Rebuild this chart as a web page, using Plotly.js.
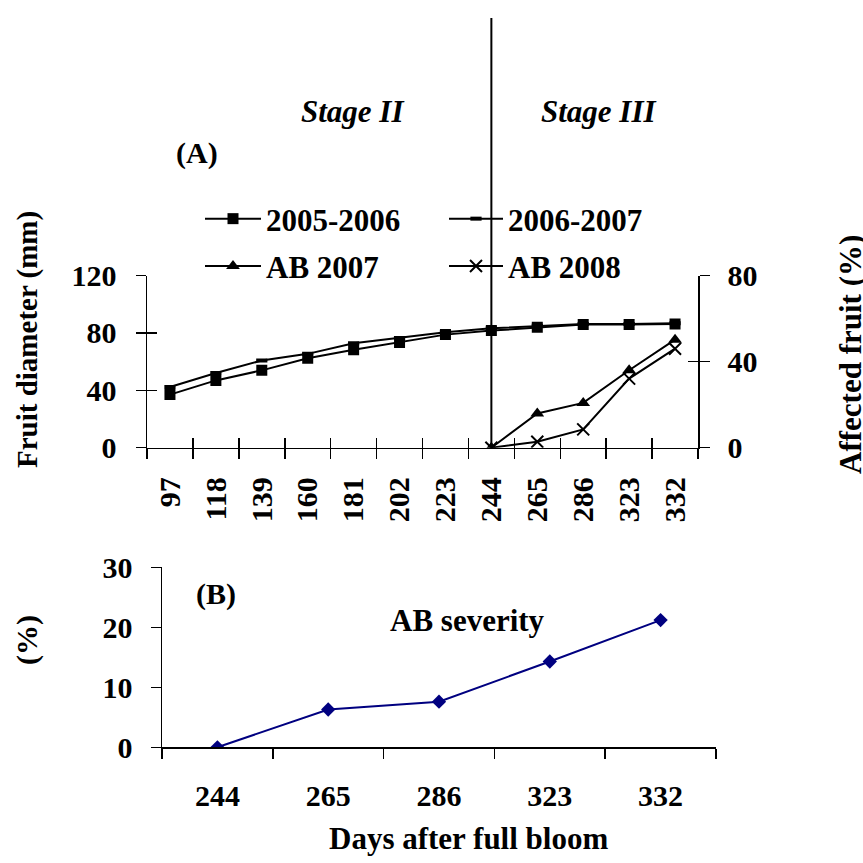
<!DOCTYPE html>
<html><head><meta charset="utf-8">
<script src="https://cdn.plot.ly/plotly-3.0.1.min.js"></script>
<style>html,body{margin:0;padding:0;background:#fff}#chart{width:863px;height:863px}</style>
</head><body><div id="chart"></div><script>
// ---- data ----
const days = ['97','118','139','160','181','202','223','244','265','286','323','332'];
const diam0506 = [37.0,46.9,53.9,62.4,68.2,73.3,78.8,81.6,83.9,85.8,85.8,86.2];
const diam0607 = [42.3,52.0,60.8,65.4,72.8,76.5,80.5,83.2,84.9,86.2,86.2,86.7];
const abDays = ['244','265','286','323','332'];
const ab2007 = [0,15.9,20.8,36.0,50.2];
const ab2008 = [0,2.8,8.5,32.1,46.0];
const sevDays = ['244','265','286','323','332'];
const severity = [0,6.3,7.6,14.3,21.2];
const leftTicks = [0,40,80,120];
const rightTicks = [0,40,80];
const sevTicks = [0,10,20,30];

// ---- layout helpers ----
const W = 863, H = 863;
const px = v => v / W;
const py = v => 1 - v / H;
const FAM = 'Liberation Serif, Times New Roman, serif';
const bf = (s) => ({family: FAM, size: s, color: '#000', weight: 'bold'});

const boundaries = n => Array.from({length: n + 1}, (_, i) => i - 0.5);

const traces = [
  {x: days, y: diam0506, name: '2005-2006', type: 'scatter', mode: 'lines+markers',
   line: {color: '#000', width: 2}, marker: {symbol: 'square', size: 11, color: '#000'},
   xaxis: 'x', yaxis: 'y', legend: 'legend', legendgroup: 'a'},
  {x: abDays, y: ab2007, name: 'AB 2007', type: 'scatter', mode: 'lines+markers',
   line: {color: '#000', width: 2}, marker: {symbol: 'triangle-up', size: 12, color: '#000'},
   xaxis: 'x', yaxis: 'y2', legend: 'legend', legendgroup: 'b'},
  {x: days, y: diam0607, name: '2006-2007', type: 'scatter', mode: 'lines+markers',
   line: {color: '#000', width: 2}, marker: {symbol: 'line-ew', size: 8, color: '#000', line: {color: '#000', width: 4}},
   xaxis: 'x', yaxis: 'y', legend: 'legend2', legendgroup: 'c'},
  {x: abDays, y: ab2008, name: 'AB 2008', type: 'scatter', mode: 'lines+markers',
   line: {color: '#000', width: 2}, marker: {symbol: 'x-thin', size: 12, color: '#000', line: {color: '#000', width: 2}},
   xaxis: 'x', yaxis: 'y2', legend: 'legend2', legendgroup: 'd'},
  {x: sevDays, y: severity, name: 'AB severity', type: 'scatter', mode: 'lines+markers',
   line: {color: '#000080', width: 2}, marker: {symbol: 'diamond', size: 11, color: '#000080'},
   xaxis: 'x2', yaxis: 'y3', showlegend: false},
  // empty helper traces so the inner-tick overlay axes are drawn (cross ticks)
  {x: [], y: [], type: 'scatter', mode: 'lines', xaxis: 'x3', yaxis: 'y', showlegend: false, hoverinfo: 'skip'},
  {x: [], y: [], type: 'scatter', mode: 'lines', xaxis: 'x', yaxis: 'y4', showlegend: false, hoverinfo: 'skip'},
  {x: [], y: [], type: 'scatter', mode: 'lines', xaxis: 'x', yaxis: 'y5', showlegend: false, hoverinfo: 'skip'}
];

const topDomX = [px(147), px(698)];
const topDomY = [py(447.7), py(275.5)];
const botDomX = [px(162), px(716)];
const botDomY = [py(747.3), py(567.3)];

const axBase = {showgrid: false, zeroline: false, showline: true, linecolor: '#000', linewidth: 1.5,
  tickcolor: '#000', tickwidth: 1.5, fixedrange: true};
const innerBase = {showticklabels: false, showline: false, showgrid: false, zeroline: false,
  ticks: 'inside', ticklen: 10, tickcolor: '#000', tickwidth: 1.5, fixedrange: true, tickmode: 'array'};

const layout = {
  width: W, height: H, margin: {l: 0, r: 0, t: 0, b: 0},
  paper_bgcolor: '#fff', plot_bgcolor: 'rgba(0,0,0,0)',
  font: {family: FAM, color: '#000'},
  xaxis: Object.assign({}, axBase, {domain: topDomX, anchor: 'y', type: 'category',
    categoryorder: 'array', categoryarray: days, range: [-0.5, days.length - 0.5],
    tickson: 'boundaries', ticks: 'outside', ticklen: 10, tickangle: -90,
    tickfont: bf(30), ticklabelstandoff: 16}),
  xaxis3: Object.assign({}, innerBase, {overlaying: 'x', anchor: 'y', type: 'linear',
    range: [-0.5, days.length - 0.5], tickvals: boundaries(days.length)}),
  yaxis: Object.assign({}, axBase, {domain: topDomY, anchor: 'x', range: [0, 120],
    tickmode: 'array', tickvals: leftTicks, ticks: 'outside', ticklen: 10,
    tickfont: bf(30), ticklabelstandoff: 13}),
  yaxis4: Object.assign({}, innerBase, {overlaying: 'y', anchor: 'x', side: 'left',
    range: [0, 120], tickvals: leftTicks}),
  yaxis2: Object.assign({}, axBase, {overlaying: 'y', anchor: 'x', side: 'right', range: [0, 80],
    tickmode: 'array', tickvals: rightTicks, ticks: 'outside', ticklen: 10,
    tickfont: bf(30), ticklabelstandoff: 12}),
  yaxis5: Object.assign({}, innerBase, {overlaying: 'y', anchor: 'x', side: 'right',
    range: [0, 80], tickvals: rightTicks}),
  xaxis2: Object.assign({}, axBase, {domain: botDomX, anchor: 'y3', type: 'category',
    categoryorder: 'array', categoryarray: sevDays, range: [-0.5, sevDays.length - 0.5],
    tickson: 'boundaries', ticks: 'outside', ticklen: 10, tickfont: bf(30), ticklabelstandoff: 21}),
  yaxis3: Object.assign({}, axBase, {domain: botDomY, anchor: 'x2', range: [0, 30],
    tickmode: 'array', tickvals: sevTicks, ticks: 'outside', ticklen: 10,
    tickfont: bf(30), ticklabelstandoff: 12}),
  legend: {x: px(200), xanchor: 'left', y: py(192), yanchor: 'top', orientation: 'v',
    font: bf(31), bgcolor: 'rgba(0,0,0,0)', tracegroupgap: 4, itemwidth: 56, traceorder: 'grouped'},
  legend2: {x: px(444), xanchor: 'left', y: py(192), yanchor: 'top', orientation: 'v',
    font: bf(31), bgcolor: 'rgba(0,0,0,0)', tracegroupgap: 4, itemwidth: 54, traceorder: 'grouped'},
  shapes: [
    {type: 'line', xref: 'x', yref: 'paper', x0: days.indexOf('244'), x1: days.indexOf('244'),
     y0: py(447.7), y1: py(18), line: {color: '#000', width: 2}}
  ],
  annotations: [
    {text: 'Stage II', x: px(352), y: py(112), xref: 'paper', yref: 'paper', showarrow: false,
     xanchor: 'center', yanchor: 'middle', font: Object.assign(bf(31), {style: 'italic'})},
    {text: 'Stage III', x: px(598), y: py(112), xref: 'paper', yref: 'paper', showarrow: false,
     xanchor: 'center', yanchor: 'middle', font: Object.assign(bf(31), {style: 'italic'})},
    {text: '(A)', x: px(197), y: py(153), xref: 'paper', yref: 'paper', showarrow: false,
     xanchor: 'center', yanchor: 'middle', font: bf(30)},
    {text: 'Fruit diameter (mm)', x: px(27), y: py(340), xref: 'paper', yref: 'paper', showarrow: false,
     textangle: -90, xanchor: 'center', yanchor: 'middle', font: bf(29)},
    {text: 'Affected fruit (%)', x: px(850), y: py(355), xref: 'paper', yref: 'paper', showarrow: false,
     textangle: -90, xanchor: 'center', yanchor: 'middle', font: bf(31)},
    {text: '(B)', x: px(216), y: py(594), xref: 'paper', yref: 'paper', showarrow: false,
     xanchor: 'center', yanchor: 'middle', font: bf(30)},
    {text: 'AB severity', x: px(467), y: py(620), xref: 'paper', yref: 'paper', showarrow: false,
     xanchor: 'center', yanchor: 'middle', font: bf(31)},
    {text: '(%)', x: px(27), y: py(640), xref: 'paper', yref: 'paper', showarrow: false,
     textangle: -90, xanchor: 'center', yanchor: 'middle', font: bf(30)},
    {text: 'Days after full bloom', x: px(468), y: py(838), xref: 'paper', yref: 'paper', showarrow: false,
     xanchor: 'center', yanchor: 'middle', font: bf(31)}
  ]
};

Plotly.newPlot('chart', traces, layout, {displayModeBar: false, staticPlot: true});
</script></body></html>
